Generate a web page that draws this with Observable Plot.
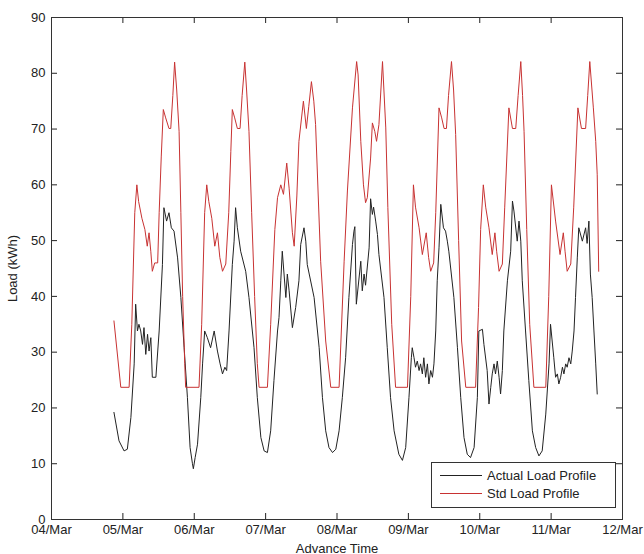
<!DOCTYPE html>
<html><head><meta charset="utf-8">
<script src="https://cdn.jsdelivr.net/npm/d3@7"></script>
<script src="https://cdn.jsdelivr.net/npm/@observablehq/plot@0.6"></script>
<style>
body{margin:0;background:#fff;font-family:"Liberation Sans",Arial,sans-serif;}
#wrap{position:relative;width:644px;height:554px;}
#legend{position:absolute;left:431px;top:462px;width:185px;height:46px;box-sizing:border-box;border:1px solid #333;background:#fff;font-size:13px;color:#222;}
#legend .row{position:absolute;left:8px;height:18px;display:flex;align-items:center;white-space:nowrap;}
#legend .sw{width:42px;height:0;border-top:1px solid;margin-right:5px;}
</style></head><body><div id="wrap"></div>
<script>
// x: hours since 04/Mar 00:00, y: load (kWh)
const dayLabels = ["04/Mar","05/Mar","06/Mar","07/Mar","08/Mar","09/Mar","10/Mar","11/Mar","12/Mar"];
const yTicks = [0,10,20,30,40,50,60,70,80,90];
const seriesNames = ["Actual Load Profile","Std Load Profile"];
const seriesColors = ["#222222","#c83232"];

const actualSeries = [[21.0,19.2],[22.7,14.1],[24.4,12.3],[25.5,12.6],[26.7,18.3],[27.8,27.9],[28.3,38.6],[28.9,33.8],[29.4,35],[30.0,33.8],[30.6,31.4],[31.1,34.4],[31.7,29.6],[32.3,33.2],[32.8,30.2],[33.4,32.6],[33.9,25.5],[35.1,25.5],[36.2,33.8],[37.3,45.7],[37.8,55.9],[38.7,53.5],[39.5,55],[40.3,52.3],[41.2,51.7],[42.4,46.9],[43.5,39.8],[44.6,30.8],[45.7,21.9],[46.6,12.9],[47.4,10.0],[47.7,9.1],[48.3,11.1],[49.1,13.5],[50.2,21.9],[50.8,27.9],[51.5,33.8],[52.4,32.6],[53.5,30.8],[54.7,33.8],[55.8,30.2],[56.7,27.9],[57.5,26.1],[58.3,27.3],[58.9,26.7],[59.7,33.8],[60.8,45.7],[61.4,49.9],[61.9,55.9],[62.5,52.3],[63.6,48.1],[65.3,44.5],[66.4,39.8],[68.1,30.8],[69.2,21.9],[70.4,14.7],[71.5,12.3],[72.6,12.0],[73.7,15.9],[74.8,24.9],[76.0,33.8],[76.5,36.2],[77.1,42.8],[77.6,48.1],[78.8,39.8],[79.3,44],[79.9,41],[81.0,34.4],[82.1,38],[83.2,42.8],[83.8,49.3],[84.9,52.3],[85.5,49.9],[86.0,45.7],[88.3,39.8],[90.0,30.8],[91.1,21.9],[92.2,15.9],[93.3,12.9],[94.5,12.0],[95.6,12.6],[96.7,15.9],[97.8,21.9],[98.9,29],[100.0,39.8],[101.2,49.3],[101.7,51.7],[102.0,52.5],[102.5,38.6],[104.0,46.3],[104.5,41],[105.1,44],[105.6,42],[106.8,48.7],[107.3,57.5],[107.9,54.7],[108.3,56],[109.0,53.5],[109.6,51.1],[110.1,47.5],[111.8,39.8],[112.9,30.8],[114.0,21.9],[115.2,15.9],[116.8,11.7],[118.0,10.6],[119.1,12.9],[120.2,21.9],[121.0,29],[121.3,30.8],[121.9,29],[122.4,27.3],[123.0,28.4],[123.6,26.7],[124.1,27.9],[124.7,26.1],[125.2,29],[125.8,25.5],[126.4,27.9],[126.9,24.3],[127.5,26.7],[128.1,25.5],[128.6,27.9],[129.2,33.8],[129.7,42.8],[130.3,48.7],[130.9,56.5],[131.8,52.3],[132.5,51.7],[133.1,49.9],[133.6,48.1],[135.3,39.8],[136.5,30.8],[137.6,21.9],[138.7,14.7],[139.8,11.7],[140.9,11.1],[142.1,12.9],[143.2,21.9],[143.7,33.8],[144.9,34.1],[145.4,31.4],[146.5,26.7],[147.1,20.7],[147.7,23.7],[148.2,26.1],[148.8,27.9],[149.3,26.1],[149.9,28.4],[150.5,25.5],[151.0,22.5],[151.6,26.7],[152.1,33.8],[153.3,42.8],[154.4,48.1],[155.0,57.1],[155.5,55.3],[156.6,49.9],[157.2,53.5],[157.8,49.9],[158.3,42.8],[159.4,33.8],[160.5,24.9],[161.7,15.9],[162.8,12.9],[163.9,11.4],[165.0,12.3],[166.2,18.9],[167.3,27.9],[167.8,35],[168.9,29],[169.5,25.5],[170.1,26.1],[170.6,24.3],[171.2,25.5],[171.8,27.3],[172.3,26.1],[172.9,27.9],[173.4,27.3],[174.0,29],[174.6,27.9],[175.1,30.2],[175.7,33.8],[176.2,39.8],[176.8,46.9],[177.3,52.3],[178.5,49.9],[179.6,52.3],[180.1,49.5],[180.7,53.5],[181.2,44],[181.8,39.8],[182.4,33.8],[183.0,27.9],[183.5,22.5]];

const stdSeries = [[21.0,35.6],[23.3,23.7],[26.1,23.7],[27.0,35],[28.0,55],[28.7,60],[29.3,57],[30.4,54],[31.4,52],[32.2,49],[32.8,51.4],[33.4,48],[33.9,44.5],[34.7,46],[35.7,46],[36.2,55],[36.9,65],[37.6,73.5],[38.4,72],[39.5,70.1],[40.1,70.1],[40.8,76],[41.4,82],[42.1,77],[42.9,69.6],[43.5,55],[44.1,40],[44.8,28],[45.1,23.7],
[49.6,23.7],[50.5,35],[51.5,55],[52.2,60],[52.9,57],[53.9,54],[54.9,49],[55.8,51.4],[56.6,47],[57.5,44.5],[58.6,45.8],[59.6,55],[60.3,66],[60.8,73.5],[61.6,72],[62.5,70.1],[63.4,70.1],[64.1,76],[65.0,82],[65.6,77],[66.4,69.6],[67.3,55],[68.3,40],[69.2,28],[69.8,23.7],[72.6,23.7],
[73.7,35],[75.1,52],[76.0,57.7],[77.1,60],[78.0,58.3],[79.1,63.9],[79.9,59.4],[81.0,51.4],[81.6,49],[82.5,58],[83.2,67.8],[84.7,75],[85.7,70.1],[86.5,74],[87.4,78.5],[88.2,75],[88.8,70.8],[90.5,46.3],[92.2,32],[93.9,23.7],[96.7,23.7],
[98.4,46.3],[99.5,58.9],[101.2,73.8],[102.6,82.1],[103.1,79.7],[104.0,67.8],[104.9,60],[105.6,56.8],[106.2,57.7],[107.3,64.8],[107.9,71.1],[108.7,69.6],[109.3,67.8],[110.1,70.8],[111.3,82.1],[112.4,70.2],[113.1,55.9],[114.4,35],[115.7,23.7],[119.7,23.7],
[120.8,40],[121.7,60],[122.4,56],[123.6,52.3],[124.7,47.5],[126.0,51.4],[126.8,47],[127.5,44.5],[128.5,46],[129.2,55],[130.3,73.8],[131.2,72],[132.0,70.1],[132.8,70.1],[133.5,76],[134.5,82.1],[135.2,77],[135.9,69],[136.9,50],[137.9,32],[139.3,23.7],[142.6,23.7],
[143.6,38],[144.3,52],[145.2,60],[146.0,56],[147.1,52.3],[148.2,47.5],[149.1,51.4],[149.7,48],[150.5,44.5],[151.6,45.8],[152.4,56],[153.8,73.8],[155.0,70.1],[156.1,70.1],[156.9,76],[157.8,82.1],[158.4,76],[158.9,69.6],[159.8,52],[160.8,35],[162.2,23.7],[166.2,23.7],
[167.2,40],[168.1,60],[169.5,53.5],[171.0,47.5],[172.1,51.4],[172.7,48],[173.4,44.5],[174.6,45.8],[175.6,56],[177.0,73.8],[178.2,70.1],[179.6,70.1],[180.3,76],[181.0,82.1],[182.2,73.8],[183.0,67.8],[183.5,61.8],[184.0,44.5]];

const W = 644, H = 554, mL = 51, mR = 22, mT = 17, mB = 35, TICK = 6;
const plotW = W - mL - mR, plotH = H - mT - mB;

const base = Date.UTC(2014, 2, 4);
const toDate = h => new Date(base + h * 3600e3);
const actual = actualSeries.map(([h, v]) => ({t: toDate(h), v}));
const std = stdSeries.map(([h, v]) => ({t: toDate(h), v}));
const dayTicks = dayLabels.map((_, i) => toDate(24 * i));
const fmtDay = d => dayLabels[Math.round((d - base) / 864e5)];

const chart = Plot.plot({
  width: W, height: H,
  marginLeft: mL, marginRight: mR, marginTop: mT, marginBottom: mB,
  style: {fontFamily: '"Liberation Sans", Arial, sans-serif', fontSize: "13px", color: "#222", background: "#fff"},
  x: {type: "utc", domain: [dayTicks[0], dayTicks[dayTicks.length - 1]]},
  y: {domain: [0, 90]},
  marks: [
    Plot.line(actual, {x: "t", y: "v", stroke: seriesColors[0], strokeWidth: 1}),
    Plot.line(std, {x: "t", y: "v", stroke: seriesColors[1], strokeWidth: 1}),
    // inward ticks on all four sides (MATLAB style box)
    Plot.tickX(dayTicks, {x: d => d, stroke: "#222", insetTop: plotH - TICK}),
    Plot.tickX(dayTicks, {x: d => d, stroke: "#222", insetBottom: plotH - TICK}),
    Plot.tickY(yTicks, {y: d => d, stroke: "#222", insetRight: plotW - TICK}),
    Plot.tickY(yTicks, {y: d => d, stroke: "#222", insetLeft: plotW - TICK}),
    Plot.axisX({ticks: dayTicks, tickSize: 0, tickPadding: 5, tickFormat: fmtDay,
      label: "Advance Time", labelAnchor: "center", labelArrow: "none", labelOffset: 33}),
    Plot.axisY({ticks: yTicks, tickSize: 0, tickPadding: 6,
      label: "Load (kWh)", labelAnchor: "center", labelArrow: "none", labelOffset: 44}),
    Plot.frame({stroke: "#333"})
  ]
});
const wrap = document.getElementById("wrap");
wrap.appendChild(chart);

const legend = document.createElement("div");
legend.id = "legend";
seriesNames.forEach((name, i) => {
  const row = document.createElement("div");
  row.className = "row";
  row.style.top = (3 + i * 18) + "px";
  const sw = document.createElement("span");
  sw.className = "sw";
  sw.style.borderTopColor = seriesColors[i];
  const tx = document.createElement("span");
  tx.textContent = name;
  row.appendChild(sw); row.appendChild(tx);
  legend.appendChild(row);
});
wrap.appendChild(legend);
</script>
</body></html>
